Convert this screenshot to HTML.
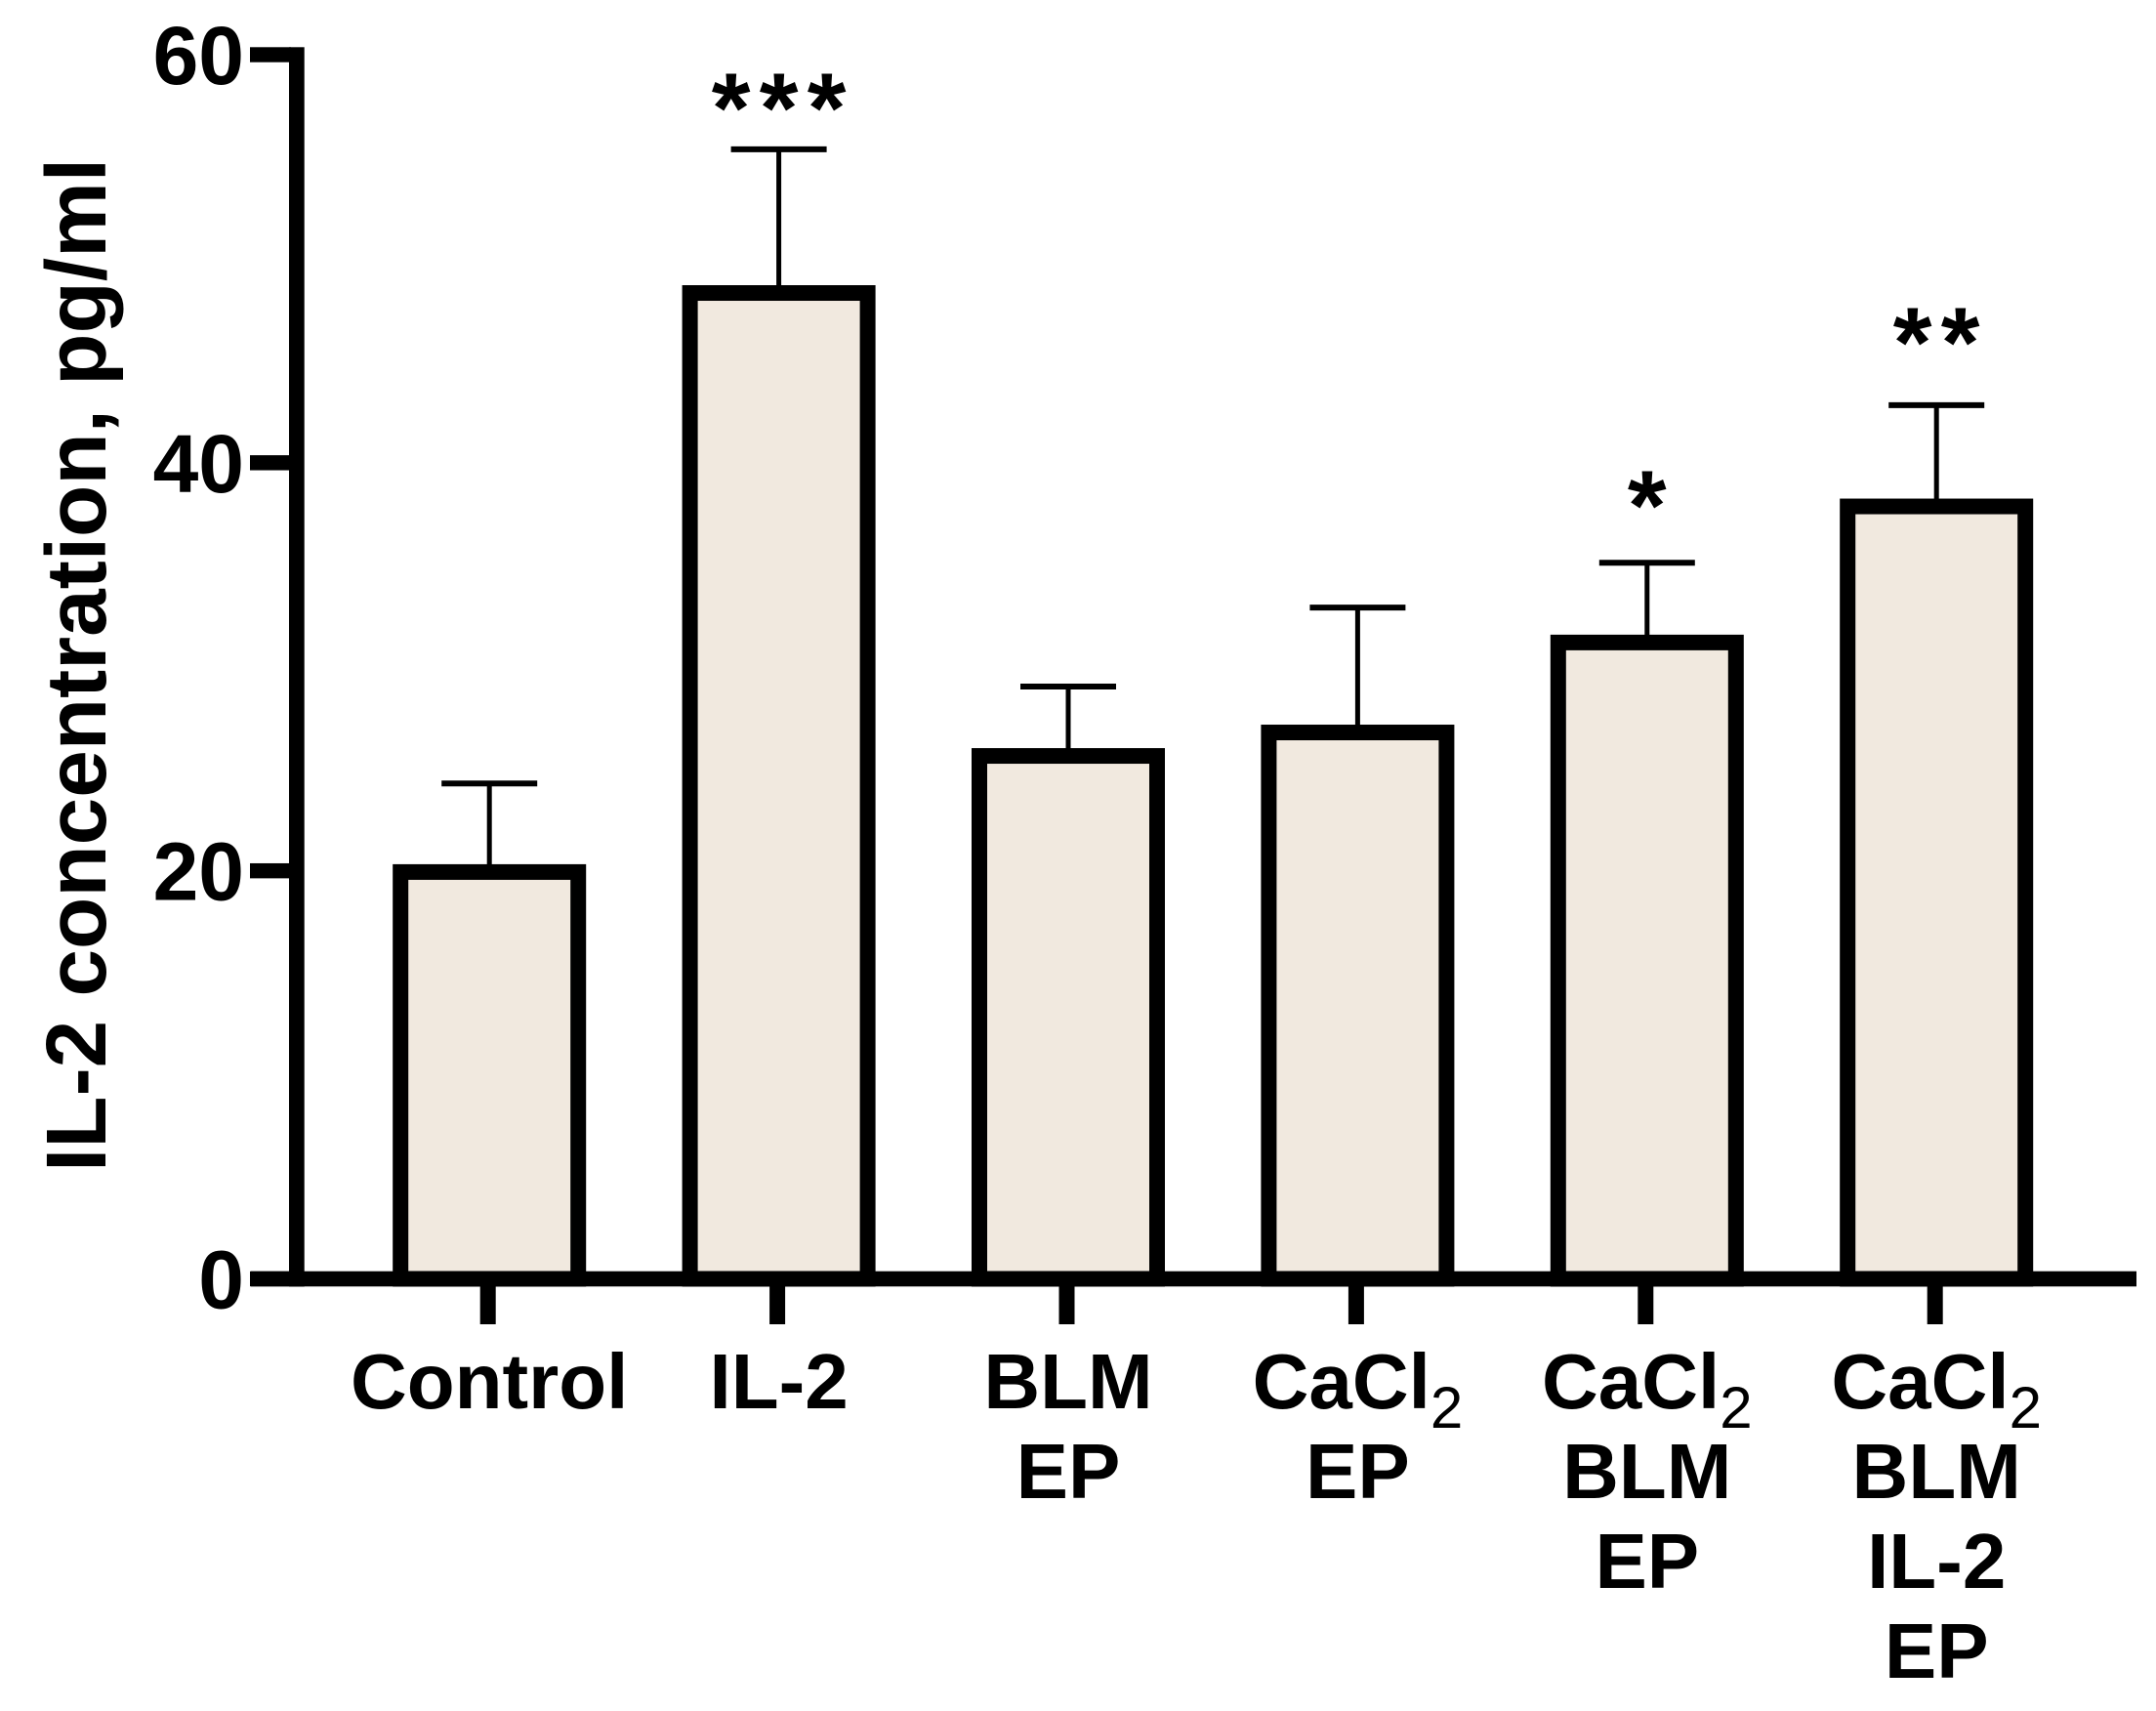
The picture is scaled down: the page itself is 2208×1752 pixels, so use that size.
<!DOCTYPE html>
<html lang="en">
<head>
<meta charset="utf-8">
<title>IL-2 concentration chart</title>
<style>
html,body{margin:0;padding:0;background:#fff;}
#chart{display:block;width:2208px;height:1752px;font-family:"Liberation Sans",Arial,sans-serif;}
</style>
</head>
<body>
<svg id="chart" xmlns="http://www.w3.org/2000/svg" width="2208" height="1752" viewBox="0 0 2208 1752">
<text transform="translate(108 681) rotate(-90)" text-anchor="middle" font-size="87.3" font-weight="700" fill="#000">IL-2 concentration, pg/ml</text>
</svg>
<script>
const categories = [["Control"], ["IL-2"], ["BLM", "EP"], ["CaCl2", "EP"], ["CaCl2", "BLM", "EP"], ["CaCl2", "BLM", "IL-2", "EP"]];
const means = [19.94, 48.32, 25.63, 26.78, 31.19, 37.86];
const errors = [4.34, 7.04, 3.40, 6.12, 3.91, 4.96];
const significance = ["", "***", "", "", "*", "**"];
const significanceLevels = [0, 58.95, 0, 0, 39.47, 47.47];
const yTicks = [0, 20, 40, 60];

const svg = document.getElementById('chart');
const NS = 'http://www.w3.org/2000/svg';
const Y0 = 1309.5, Y60 = 56, YMAX = 60;
const X0 = 501.2, STEP = 296.4;
function yScale(v) { return Y0 + (Y60 - Y0) * v / YMAX; }
function xScale(i) { return X0 + STEP * i; }
function make(tag, attrs, parent) {
  const el = document.createElementNS(NS, tag);
  for (const k in attrs) el.setAttribute(k, attrs[k]);
  (parent || svg).appendChild(el);
  return el;
}

// bars and error bars
categories.forEach(function (cat, i) {
  const cx = xScale(i);
  const top = yScale(means[i]);
  const capY = yScale(means[i] + errors[i]);
  const stem = make('line', { x1: cx, x2: cx, y1: capY, y2: top, stroke: '#000', 'stroke-width': 5 });
  
  
  const cap = make('line', { x1: cx - 49, x2: cx + 49, y1: capY, y2: capY, stroke: '#000', 'stroke-width': 6 });
  
  
  const bar = make('rect', { x: cx - 91, y: top, width: 182, height: Y0 - top, fill: '#f1e9df', stroke: '#000', 'stroke-width': 16 });
  
  
  if (significance[i]) {
    const star = make('text', { x: cx + 4.6, y: yScale(significanceLevels[i]) + 68, 'text-anchor': 'middle', 'font-size': 102, 'font-weight': 700, 'letter-spacing': 9.3, fill: '#000' });
    
    
    star.textContent = significance[i];
  }
});

// y axis
const yAxis = make('rect', { x: 296, y: 48.3, width: 15.7, height: Y0 - 48.3 + 8, fill: '#000' });


yTicks.forEach(function (t) {
  const y = yScale(t);
  const tick = make('rect', { x: 256, y: y - 7.7, width: 42, height: 15.4, fill: '#000' });
  
  
  const label = make('text', { x: 250, y: y + 30, 'text-anchor': 'end', 'font-size': 84, 'font-weight': 700, fill: '#000' });
  
  
  label.textContent = t;
});

// x axis
const xAxis = make('rect', { x: 257, y: Y0 - 7.8, width: 1931, height: 15.6, fill: '#000' });


categories.forEach(function (lines, i) {
  const cx = xScale(i);
  const tick = make('rect', { x: cx - 9.5, y: Y0, width: 16, height: 46.5, fill: '#000' });
  
  
  lines.forEach(function (line, j) {
    const label = make('text', { x: cx, y: 1442 + 92 * j, 'text-anchor': 'middle', 'font-size': 80, 'font-weight': 700, fill: '#000' });
    
    
    if (line === 'CaCl2') {
      label.textContent = 'CaCl';
      const sub = make('tspan', { dy: 20, 'font-size': 60, 'font-weight': 400 }, label);
      
      
      sub.textContent = '2';
    } else {
      label.textContent = line;
    }
  });
});
</script>
</body>
</html>
